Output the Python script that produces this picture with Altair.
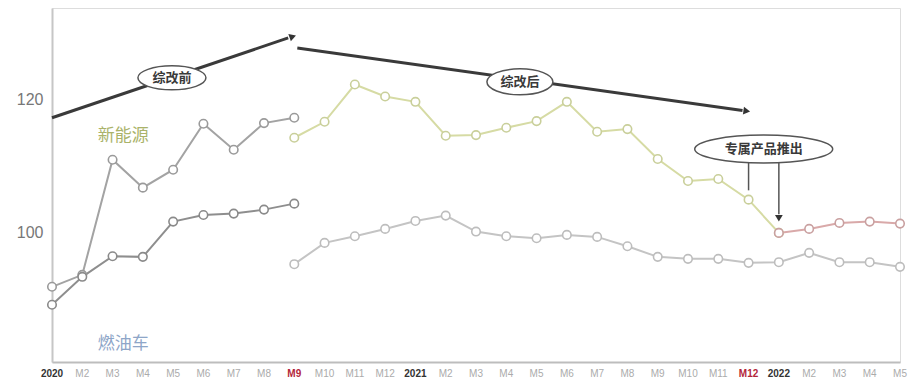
import altair as alt
import pandas as pd

# Month labels along the x axis (index 0 = 2020 M1)
month_labels = ["2020", "M2", "M3", "M4", "M5", "M6", "M7", "M8", "M9", "M10", "M11", "M12",
                "2021", "M2", "M3", "M4", "M5", "M6", "M7", "M8", "M9", "M10", "M11", "M12",
                "2022", "M2", "M3", "M4", "M5"]
year_idx = [0, 12, 24]
highlight_idx = [8, 23]

# 新能源 index series: before reform (idx 0-8), after reform (idx 8-24), 2022 (idx 24-28)
nev_before = [91.9, 93.7, 111.0, 106.8, 109.5, 116.4, 112.5, 116.5, 117.3]
nev_after = [114.3, 116.7, 122.3, 120.5, 119.7, 114.6, 114.7, 115.8, 116.8, 119.7,
             115.2, 115.6, 111.1, 107.8, 108.1, 105.0, 100.0]
nev_2022 = [100.0, 100.6, 101.5, 101.7, 101.4]

# 燃油车 index series: before reform (idx 0-8), after reform (idx 8-28)
ice_before = [89.2, 93.4, 96.5, 96.4, 101.7, 102.7, 102.9, 103.5, 104.4]
ice_after = [95.3, 98.5, 99.5, 100.6, 101.8, 102.6, 100.2, 99.5, 99.2, 99.7, 99.4,
             98.0, 96.4, 96.1, 96.1, 95.5, 95.6, 97.0, 95.6, 95.6, 94.9]

segments = [
    ("nev_a", 0, nev_before),
    ("nev_b", 8, nev_after),
    ("nev_c", 24, nev_2022),
    ("ice_a", 0, ice_before),
    ("ice_b", 8, ice_after),
]
rows = []
for seg, start, vals in segments:
    for i, v in enumerate(vals):
        rows.append({"seg": seg, "idx": start + i, "value": v})
series_df = pd.DataFrame(rows)

seg_domain = ["nev_a", "nev_b", "nev_c", "ice_a", "ice_b"]
line_colors = ["#a3a3a3", "#d6dba4", "#d9a9a9", "#8e8e8e", "#c4c4c4"]
point_colors = ["#9a9a9a", "#c9cf9a", "#c9a0a0", "#8a8a8a", "#bdbdbd"]

label_df = pd.DataFrame({
    "idx": list(range(len(month_labels))),
    "text": month_labels,
    "kind": ["year" if i in year_idx else ("hl" if i in highlight_idx else "m")
             for i in range(len(month_labels))],
})

X_DOMAIN = [0, 28]
Y_DOMAIN = [80.6, 133.8]
x_enc = alt.X("idx:Q", scale=alt.Scale(domain=X_DOMAIN, nice=False, zero=False),
              axis=alt.Axis(values=[], ticks=False, labels=False, grid=False, title=None,
                            domainColor="#bdbdbd", domainWidth=2))
y_enc = alt.Y("value:Q", scale=alt.Scale(domain=Y_DOMAIN, nice=False, zero=False),
              axis=alt.Axis(values=[100, 120], ticks=False, grid=False, title=None,
                            domainColor="#c6c6c6", domainWidth=2, labelPadding=9,
                            labelFontSize=16, labelColor="#777777",
                            labelFont="Liberation Sans"))

lines = alt.Chart(series_df).mark_line(strokeWidth=2).encode(
    x=x_enc, y=y_enc,
    color=alt.Color("seg:N", scale=alt.Scale(domain=seg_domain, range=line_colors), legend=None),
    detail="seg:N",
)
points = alt.Chart(series_df).mark_point(
    filled=True, fill="white", fillOpacity=1, size=72, strokeWidth=1.6, opacity=1
).encode(
    x="idx:Q", y="value:Q",
    stroke=alt.Stroke("seg:N", scale=alt.Scale(domain=seg_domain, range=point_colors), legend=None),
)

# x-axis month labels: plain months, bold years, bold highlighted months
def label_layer(kind, color, weight):
    return alt.Chart(label_df).transform_filter(f"datum.kind == '{kind}'").mark_text(
        fontSize=10, font="Liberation Sans", fontWeight=weight, color=color,
        baseline="middle", align="center"
    ).encode(x="idx:Q", y=alt.value(366), text="text:N")

month_text = label_layer("m", "#ababab", "normal")
year_text = label_layer("year", "#333333", "bold")
hl_text = label_layer("hl", "#b3263a", "bold")

# reform arrows (thick) and callout lines (thin)
thick_df = pd.DataFrame({"x": [0.0, 8.1], "y": [117.3, 127.8],
                         "x2": [7.8, 22.8], "y2": [129.3, 118.4]})
thin_df = pd.DataFrame({"x": [23.0, 24.0], "y": [110.6, 110.6],
                        "x2": [23.0, 24.0], "y2": [106.4, 102.8]})
thick = alt.Chart(thick_df).mark_rule(strokeWidth=3, color="#3a3a3a").encode(
    x="x:Q", y="y:Q", x2="x2:Q", y2="y2:Q")
thin = alt.Chart(thin_df).mark_rule(strokeWidth=1.5, color="#555555").encode(
    x="x:Q", y="y:Q", x2="x2:Q", y2="y2:Q")

heads_df = pd.DataFrame({"x": [7.95, 22.94, 24.0], "y": [129.5, 118.3, 102.2],
                         "angle": [71, 98, 180]})
heads = alt.Chart(heads_df).mark_point(
    shape="triangle-up", filled=True, color="#333333", size=60, opacity=1
).encode(x="x:Q", y="y:Q", angle=alt.Angle("angle:Q", scale=None))

# ellipse badges with captions
ellipse_path = "M-1,0 A1,{r} 0 1,1 1,0 A1,{r} 0 1,1 -1,0 Z"
badge_df = pd.DataFrame({
    "x": [3.96, 15.45, 23.5],
    "y": [123.3, 122.7, 112.6],
    "text": ["综改前", "综改后", "专属产品推出"],
})
badge_specs = [(68, 24), (66, 26), (138, 28)]
badges = []
for i, (w, h) in enumerate(badge_specs):
    shape = ellipse_path.format(r=round(h / w, 3))
    badges.append(
        alt.Chart(badge_df.iloc[[i]]).mark_point(
            shape=shape, filled=True, fill="white", fillOpacity=1,
            stroke="#555555", strokeWidth=1.5, size=w * w, opacity=1
        ).encode(x="x:Q", y="y:Q")
    )
badge_text = alt.Chart(badge_df).mark_text(
    fontSize=13, font="Noto Sans CJK SC", fontWeight="bold", color="#3a3a3a"
).encode(x="x:Q", y="y:Q", text="text:N")

# series names
name_df = pd.DataFrame({"x": [2.35, 2.35], "y": [114.6, 83.3], "text": ["新能源", "燃油车"],
                        "c": ["nev", "ice"]})
names = alt.Chart(name_df).mark_text(fontSize=17, font="Noto Sans CJK SC").encode(
    x="x:Q", y="y:Q", text="text:N",
    color=alt.Color("c:N", scale=alt.Scale(domain=["nev", "ice"], range=["#aab36a", "#8ea6c8"]),
                    legend=None),
)

chart = alt.layer(
    lines, points, thick, thin, heads, *badges, badge_text, names,
    month_text, year_text, hl_text
).resolve_scale(color="independent", stroke="independent").properties(
    width=848, height=354,
    padding={"left": 52, "top": 8, "right": 8, "bottom": 23},
    autosize=alt.AutoSizeParams(type="none"),
).configure_view(stroke=None).configure(background="white")

chart.save("out.html", embed_options={"renderer": "svg", "actions": False})
